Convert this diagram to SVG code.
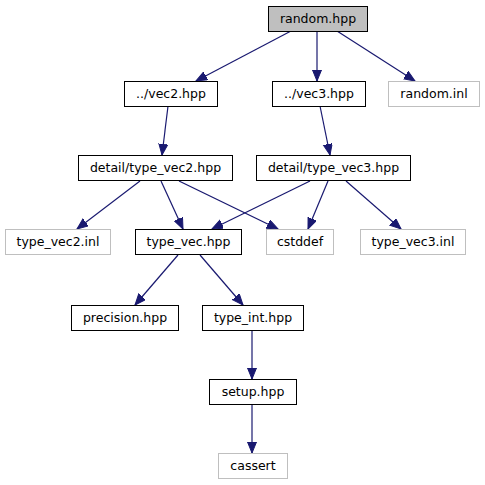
<svg xmlns="http://www.w3.org/2000/svg" width="485" height="485" viewBox="0 0 485 485">
<style>
.n rect{fill:#fff;stroke:#000;stroke-width:1}
.g rect{fill:#fff;stroke:#bfbfbf;stroke-width:1}
.r rect{fill:#bfbfbf;stroke:#000;stroke-width:1}
text{font-family:"DejaVu Sans",sans-serif;font-size:12.5px;fill:#000;text-anchor:middle}
#edges line{stroke:#191970;stroke-width:1.2;marker-end:url(#ah)}
</style>
<defs>
<marker id="ah" markerUnits="userSpaceOnUse" markerWidth="12" markerHeight="10" refX="11" refY="4.5" orient="auto">
<path d="M0,0 L11,4.5 L0,9 z" fill="#191970" stroke="#191970" stroke-width="1"/>
</marker>
</defs>
<rect width="485" height="485" fill="#fff"/>
<g id="edges">
<line x1="291" y1="31" x2="196" y2="81"/>
<line x1="317" y1="31" x2="317" y2="81"/>
<line x1="337" y1="31" x2="415" y2="81"/>
<line x1="168" y1="106" x2="162" y2="155"/>
<line x1="320" y1="106" x2="330" y2="155"/>
<line x1="140" y1="181" x2="77" y2="229"/>
<line x1="161" y1="181" x2="183" y2="229"/>
<line x1="179" y1="181" x2="278" y2="229"/>
<line x1="310" y1="181" x2="212" y2="229"/>
<line x1="328" y1="181" x2="308" y2="229"/>
<line x1="346" y1="181" x2="401" y2="229"/>
<line x1="178" y1="255" x2="135" y2="305"/>
<line x1="200" y1="255" x2="243" y2="305"/>
<line x1="252" y1="330" x2="252" y2="379"/>
<line x1="252" y1="405" x2="252" y2="453"/>
</g>
<g id="random_hpp" class="r"><rect x="268.5" y="6.5" width="99" height="25"/><text x="318" y="23">random.hpp</text></g>
<g id="vec2_hpp" class="n"><rect x="124.5" y="81.5" width="93" height="25"/><text x="171" y="98">../vec2.hpp</text></g>
<g id="vec3_hpp" class="n"><rect x="272.5" y="81.5" width="93" height="25"/><text x="319" y="98">../vec3.hpp</text></g>
<g id="random_inl" class="g"><rect x="388.5" y="81.5" width="91" height="25"/><text x="434" y="98">random.inl</text></g>
<g id="detail_type_vec2_hpp" class="n"><rect x="78.5" y="155.5" width="154" height="25"/><text x="155.5" y="172">detail/type_vec2.hpp</text></g>
<g id="detail_type_vec3_hpp" class="n"><rect x="256.5" y="155.5" width="154" height="25"/><text x="333.5" y="172">detail/type_vec3.hpp</text></g>
<g id="type_vec2_inl" class="g"><rect x="5.5" y="229.5" width="105" height="25"/><text x="58" y="246">type_vec2.inl</text></g>
<g id="type_vec_hpp" class="n"><rect x="135.5" y="229.5" width="106" height="25"/><text x="188.5" y="246">type_vec.hpp</text></g>
<g id="cstddef" class="g"><rect x="266.5" y="229.5" width="67" height="25"/><text x="300" y="246">cstddef</text></g>
<g id="type_vec3_inl" class="g"><rect x="360.5" y="229.5" width="105" height="25"/><text x="413" y="246">type_vec3.inl</text></g>
<g id="precision_hpp" class="n"><rect x="71.5" y="305.5" width="107" height="25"/><text x="125" y="322">precision.hpp</text></g>
<g id="type_int_hpp" class="n"><rect x="202.5" y="305.5" width="101" height="25"/><text x="253" y="322">type_int.hpp</text></g>
<g id="setup_hpp" class="n"><rect x="209.5" y="379.5" width="87" height="25"/><text x="253" y="396">setup.hpp</text></g>
<g id="cassert" class="g"><rect x="218.5" y="453.5" width="69" height="25"/><text x="253" y="470">cassert</text></g>
</svg>
